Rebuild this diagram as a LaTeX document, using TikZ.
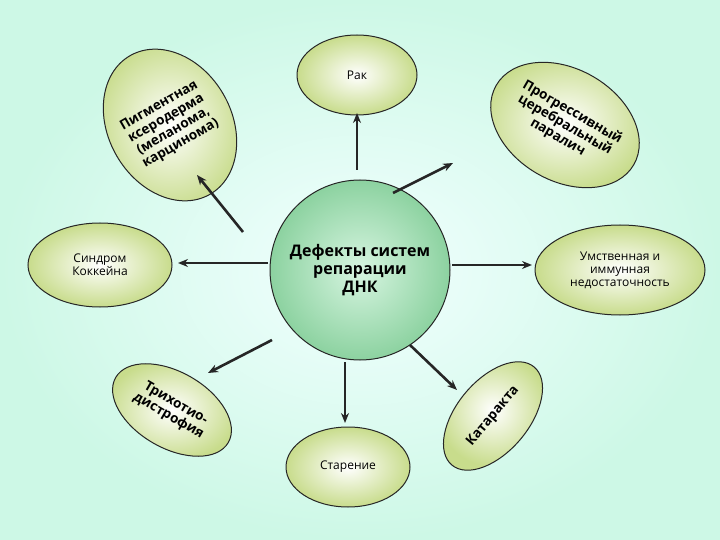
\documentclass[tikz,border=0pt]{standalone}
\usepackage{fontspec}
\setmainfont{Open Sans}
\usetikzlibrary{shapes.geometric,arrows.meta}
\begin{document}
\begin{tikzpicture}[x=1pt,y=1pt,
  bub/.style={ellipse,draw=black!85,line width=1pt,inner color=white,outer color={rgb,255:red,200;green,220;blue,140},align=center,inner sep=0pt,font=\fontsize{12}{13}\selectfont},
  big/.style={font=\fontsize{13.5}{14.5}\selectfont\bfseries},
  arr/.style={-{Stealth[length=10pt,width=8pt]},line width=2.6pt,black!85}]
\fill[inner color={rgb,255:red,242;green,255;blue,255},outer color={rgb,255:red,205;green,248;blue,230}] (0,0) rectangle (720,-540);
\useasboundingbox (0,0) rectangle (720,-540);
\node[circle,draw=black!85,line width=1pt,minimum size=180pt,inner color={rgb,255:red,215;green,245;blue,225},outer color={rgb,255:red,140;green,210;blue,160},align=center,font=\fontsize{16}{18}\selectfont\bfseries] (c) at (360,-270) {Дефекты систем\\репарации\\ДНК};
\node[bub,minimum width=120pt,minimum height=80pt] (rak) at (357,-75) {Рак};
\node[bub,big,minimum width=110pt,minimum height=160pt,rotate=30] (pig) at (170,-125) {Пигментная\\ксеродерма\\(меланома,\\карцинома)};
\node[bub,big,minimum width=152pt,minimum height=112pt,rotate=-30] (prog) at (565,-125) {Прогрессивный\\церебральный\\паралич};
\node[bub,minimum width=144pt,minimum height=84pt] (sind) at (100,-265) {Синдром\\Коккейна};
\node[bub,minimum width=170pt,minimum height=90pt] (umst) at (620,-270) {Умственная и\\иммунная\\недостаточность};
\node[bub,big,minimum width=130pt,minimum height=76pt,rotate=-30] (trih) at (172,-410) {Трихотио-\\дистрофия};
\node[bub,minimum width=124pt,minimum height=80pt] (star) at (348,-467) {Старение};
\node[bub,big,minimum width=128pt,minimum height=72pt,rotate=50] (kat) at (493,-416) {Катаракта};
\coordinate (a1) at (357,-170); \coordinate (b1) at (357,-113);
\coordinate (a2) at (243,-232); \coordinate (b2) at (197,-175);
\coordinate (a3) at (393,-193); \coordinate (b3) at (453,-163);
\coordinate (a4) at (268,-263); \coordinate (b4) at (178,-263);
\coordinate (a5) at (452,-265); \coordinate (b5) at (532,-265);
\coordinate (a6) at (272,-340); \coordinate (b6) at (208,-373);
\coordinate (a7) at (345,-362); \coordinate (b7) at (345,-423);
\coordinate (a8) at (410,-345); \coordinate (b8) at (457,-390);
\foreach \i in {1,...,8} \draw[arr] (a\i) -- (b\i);
\end{tikzpicture}
\end{document}
